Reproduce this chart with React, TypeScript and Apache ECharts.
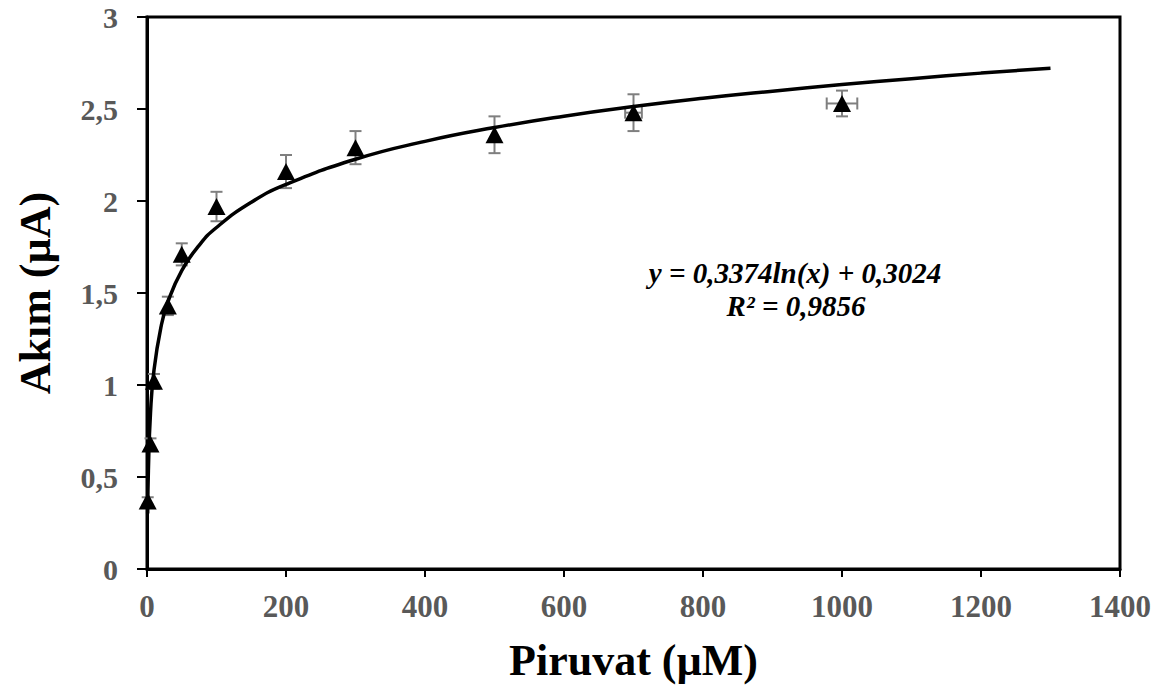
import React, { useEffect, useRef } from "react";
import * as echarts from "echarts";

const concentrations = [1, 5, 10, 30, 50, 100, 200, 300, 500, 700, 1000];
const currents = [0.37, 0.68, 1.02, 1.43, 1.71, 1.97, 2.16, 2.29, 2.36, 2.48, 2.53];
const errY = [0.02, 0.03, 0.04, 0.05, 0.06, 0.08, 0.09, 0.09, 0.1, 0.1, 0.07];
const errX = [0, 0, 0, 0, 0, 0, 0, 0, 0, 12, 22];

const trendX = [1, 2, 5, 10, 20, 30, 50, 75, 100, 150, 200, 300, 400, 500, 600, 700, 800, 900, 1000, 1100, 1200, 1300];
const trendY = [0.302, 0.536, 0.845, 1.079, 1.313, 1.450, 1.622, 1.759, 1.856, 1.993, 2.090, 2.227, 2.324, 2.399, 2.461, 2.513, 2.558, 2.597, 2.633, 2.665, 2.695, 2.722];

const xTicks = [0, 200, 400, 600, 800, 1000, 1200, 1400];
const equationText = "y = 0,3374ln(x) + 0,3024";
const r2Text = "R² = 0,9856";

const FONT = "'Liberation Serif', 'Times New Roman', serif";

export default function App() {
  const ref = useRef<HTMLDivElement>(null);
  useEffect(() => {
    if (!ref.current) return;
    const chart = echarts.init(ref.current, undefined, { renderer: "svg" });
    const errData = concentrations.map((c, i) => [c, currents[i], errY[i], errX[i]]);
    chart.setOption({
      animation: false,
      backgroundColor: "#ffffff",
      grid: {
        left: 147,
        right: 46,
        top: 17,
        bottom: 118,
        show: true,
        borderColor: "#000",
        borderWidth: 3,
        backgroundColor: "transparent",
      },
      xAxis: {
        type: "value",
        min: xTicks[0],
        max: xTicks[xTicks.length - 1],
        interval: 200,
        name: "Piruvat (µM)",
        nameLocation: "middle",
        nameGap: 69,
        nameTextStyle: { fontFamily: FONT, fontWeight: "bold", fontSize: 44, color: "#000" },
        axisLine: { show: true, lineStyle: { color: "#000", width: 3 } },
        axisTick: { show: true, inside: false, length: 8, lineStyle: { color: "#000", width: 2 } },
        axisLabel: {
          fontFamily: FONT,
          fontWeight: "bold",
          fontSize: 31,
          color: "#595959",
          margin: 22,
          formatter: (v: number) => String(v),
        },
        splitLine: { show: false },
      },
      yAxis: {
        type: "value",
        min: 0,
        max: 3,
        interval: 0.5,
        name: "Akım (µA)",
        nameLocation: "middle",
        nameGap: 90,
        nameTextStyle: { fontFamily: FONT, fontWeight: "bold", fontSize: 44, color: "#000" },
        axisLine: { show: true, lineStyle: { color: "#000", width: 3 } },
        axisTick: { show: true, inside: false, length: 10, lineStyle: { color: "#000", width: 2 } },
        axisLabel: {
          fontFamily: FONT,
          fontWeight: "bold",
          fontSize: 30,
          color: "#595959",
          margin: 29,
          formatter: (v: number) => String(v).replace(".", ","),
        },
        splitLine: { show: false },
      },
      series: [
        {
          type: "line",
          data: trendX.map((x, i) => [x, trendY[i]]),
          smooth: true,
          showSymbol: false,
          symbol: "none",
          lineStyle: { color: "#000", width: 3.5 },
          z: 3,
        },
        {
          type: "custom",
          data: errData,
          z: 2,
          renderItem: (params: any, api: any) => {
            const x = api.value(0);
            const y = api.value(1);
            const ey = api.value(2);
            const ex = api.value(3);
            const top = api.coord([x, y + ey]);
            const bot = api.coord([x, y - ey]);
            const c = api.coord([x, y]);
            const cap = 6;
            const style = { stroke: "#7f7f7f", lineWidth: 2 };
            const children: any[] = [
              { type: "line", shape: { x1: top[0], y1: top[1], x2: bot[0], y2: bot[1] }, style },
              { type: "line", shape: { x1: top[0] - cap, y1: top[1], x2: top[0] + cap, y2: top[1] }, style },
              { type: "line", shape: { x1: bot[0] - cap, y1: bot[1], x2: bot[0] + cap, y2: bot[1] }, style },
            ];
            if (ex > 0) {
              const l = api.coord([x - ex, y]);
              const r = api.coord([x + ex, y]);
              children.push(
                { type: "line", shape: { x1: l[0], y1: c[1], x2: r[0], y2: c[1] }, style },
                { type: "line", shape: { x1: l[0], y1: c[1] - cap, x2: l[0], y2: c[1] + cap }, style },
                { type: "line", shape: { x1: r[0], y1: c[1] - cap, x2: r[0], y2: c[1] + cap }, style }
              );
            }
            return { type: "group", children };
          },
        },
        {
          type: "scatter",
          data: concentrations.map((c, i) => [c, currents[i]]),
          symbol: "triangle",
          symbolSize: [18, 17],
          itemStyle: { color: "#000", opacity: 1 },
          z: 4,
        },
      ],
      graphic: [
        {
          type: "text",
          x: 795,
          y: 273,
          style: {
            text: equationText,
            fontFamily: FONT,
            fontWeight: "bold",
            fontStyle: "italic",
            fontSize: 29,
            fill: "#000",
            textAlign: "center",
            textVerticalAlign: "middle",
          },
        },
        {
          type: "text",
          x: 796,
          y: 306,
          style: {
            text: r2Text,
            fontFamily: FONT,
            fontWeight: "bold",
            fontStyle: "italic",
            fontSize: 29,
            fill: "#000",
            textAlign: "center",
            textVerticalAlign: "middle",
          },
        },
      ],
    });
    return () => chart.dispose();
  }, []);
  return (
    <div
      ref={ref}
      style={{ position: "fixed", left: 0, top: 0, width: 1166, height: 687, background: "#fff" }}
    />
  );
}
